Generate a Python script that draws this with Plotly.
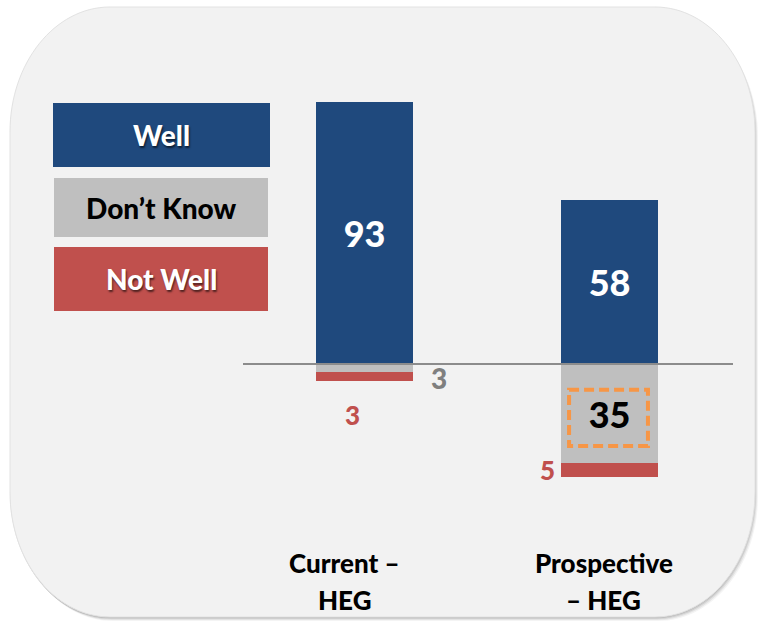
import plotly.graph_objects as go

categories = ["Current – HEG", "Prospective – HEG"]
cat_line1 = ["Current –", "Prospective"]
cat_line2 = ["HEG", "– HEG"]
well = [93, 58]
dont_know = [3, 35]
not_well = [3, 5]
legend_labels = ["Well", "Don’t Know", "Not Well"]

C_WELL = "#1f497d"
C_DK = "#bfbfbf"
C_NW = "#c0504d"
FONT = "Lato"
WT = 900

W, H = 759, 623
def px(x): return x / W
def py(y): return 1 - y / H

def rounded_path(x0, y0, x1, y1, rx, ry):
    k = 0.5523
    pts = []
    pts.append(f"M {px(x0+rx)},{py(y0)}")
    pts.append(f"L {px(x1-rx)},{py(y0)}")
    pts.append(f"C {px(x1-rx+rx*k)},{py(y0)} {px(x1)},{py(y0+ry-ry*k)} {px(x1)},{py(y0+ry)}")
    pts.append(f"L {px(x1)},{py(y1-ry)}")
    pts.append(f"C {px(x1)},{py(y1-ry+ry*k)} {px(x1-rx+rx*k)},{py(y1)} {px(x1-rx)},{py(y1)}")
    pts.append(f"L {px(x0+rx)},{py(y1)}")
    pts.append(f"C {px(x0+rx-rx*k)},{py(y1)} {px(x0)},{py(y1-ry+ry*k)} {px(x0)},{py(y1-ry)}")
    pts.append(f"L {px(x0)},{py(y0+ry)}")
    pts.append(f"C {px(x0)},{py(y0+ry-ry*k)} {px(x0+rx-rx*k)},{py(y0)} {px(x0+rx)},{py(y0)}")
    pts.append("Z")
    return " ".join(pts)

xs = [0, 1]
fig = go.Figure()
fig.add_trace(go.Bar(
    x=xs, y=well, marker=dict(color=C_WELL, line=dict(width=0)), width=0.396,
    text=[str(v) for v in well], textposition="inside", insidetextanchor="middle",
    textfont=dict(family=FONT, size=36, color="white", weight=WT),
    hoverinfo="skip", name=legend_labels[0]))
fig.add_trace(go.Bar(
    x=xs, y=[-v for v in dont_know], marker=dict(color=C_DK, line=dict(width=0)), width=0.396,
    text=["", str(dont_know[1])], textposition="inside", insidetextanchor="middle",
    textfont=dict(family=FONT, size=36, color="black", weight=WT),
    hoverinfo="skip", name=legend_labels[1]))
fig.add_trace(go.Bar(
    x=xs, y=[-v for v in not_well], marker=dict(color=C_NW, line=dict(width=0)), width=0.396,
    hoverinfo="skip", name=legend_labels[2]))

shapes = []
# shadow + rounded background
for off, op in [(5, 0.08), (4, 0.12), (3, 0.18), (2, 0.25)]:
    shapes.append(dict(type="path", xref="paper", yref="paper",
                       path=rounded_path(10 + off - 2, 8 + off - 1, 755 + off - 2, 617 + off - 1, 100, 125),
                       fillcolor=f"rgba(110,110,110,{op})", line=dict(width=0), layer="below"))
shapes.append(dict(type="path", xref="paper", yref="paper",
                   path=rounded_path(10, 7, 755, 617, 100, 125),
                   fillcolor="#f2f2f2", line=dict(color="#e2e2e2", width=1), layer="below"))
# baseline
shapes.append(dict(type="line", xref="paper", yref="y", x0=px(243), x1=px(733), y0=0, y1=0,
                   line=dict(color="#8c8c8c", width=2), layer="above"))
# highlight box around 35
shapes.append(dict(type="rect", xref="x", yref="y", x0=0.835, x1=1.157, y0=-dont_know[1] * 0.26, y1=-dont_know[1] * 0.83,
                   line=dict(color="#f79646", width=4, dash="10px,5px"), fillcolor="rgba(0,0,0,0)", layer="above"))
# legend boxes
leg_boxes = [(53, 103, 270, 167, C_WELL), (54, 178, 268, 237, C_DK), (54, 247, 268, 311, C_NW)]
for (x0, y0, x1, y1, c) in leg_boxes:
    shapes.append(dict(type="rect", xref="paper", yref="paper", x0=px(x0), x1=px(x1), y0=py(y1), y1=py(y0),
                       fillcolor=c, line=dict(width=0), layer="above"))

annotations = []
leg_text_colors = ["white", "black", "white"]
shadow = ["1px 2px 2px rgba(0,0,0,0.6)", "none", "1px 2px 2px rgba(0,0,0,0.6)"]
for (x0, y0, x1, y1, c), lab, tc, sh in zip(leg_boxes, legend_labels, leg_text_colors, shadow):
    annotations.append(dict(x=px((x0 + x1) / 2), y=py((y0 + y1) / 2), xref="paper", yref="paper",
                            text=lab, showarrow=False, xanchor="center", yanchor="middle",
                            font=dict(family=FONT, size=28, color=tc, shadow=sh, weight=WT)))
# small outside labels
annotations.append(dict(x=0, y=-dont_know[0], xref="x", yref="y", text=f"{dont_know[0]}",
                        showarrow=False, xshift=74, yshift=-6, font=dict(family=FONT, size=28, color="#7f7f7f", weight=WT)))
annotations.append(dict(x=0, y=-(dont_know[0] + not_well[0]), xref="x", yref="y", text=f"{not_well[0]}",
                        showarrow=False, xshift=-12, yshift=-34, font=dict(family=FONT, size=26, color=C_NW, weight=WT)))
annotations.append(dict(x=1, y=-(dont_know[1] + not_well[1]), xref="x", yref="y", text=f"{not_well[1]}",
                        showarrow=False, xshift=-62, yshift=7, font=dict(family=FONT, size=26, color=C_NW, weight=WT)))
# category labels
for i in range(2):
    annotations.append(dict(x=xs[i], y=py(563), xref="x", yref="paper", text=cat_line1[i],
                            showarrow=False, xshift=-20 if i == 0 else -6, yanchor="middle",
                            font=dict(family=FONT, size=26, color="black", weight=WT)))
    annotations.append(dict(x=xs[i], y=py(600), xref="x", yref="paper", text=cat_line2[i],
                            showarrow=False, xshift=-20 if i == 0 else -6, yanchor="middle",
                            font=dict(family=FONT, size=26, color="black", weight=WT)))

fig.update_layout(
    width=W, height=H, margin=dict(l=0, r=0, t=0, b=0),
    paper_bgcolor="white", plot_bgcolor="rgba(0,0,0,0)",
    barmode="relative", showlegend=False, bargap=0,
    xaxis=dict(range=[-364.5 / 245, 1 + (759 - 609.5) / 245], visible=False, fixedrange=True),
    yaxis=dict(range=[-(623 - 364) / 2.82, 364 / 2.82], visible=False, fixedrange=True),
    shapes=shapes, annotations=annotations,
)
fig.write_html("out.html")
